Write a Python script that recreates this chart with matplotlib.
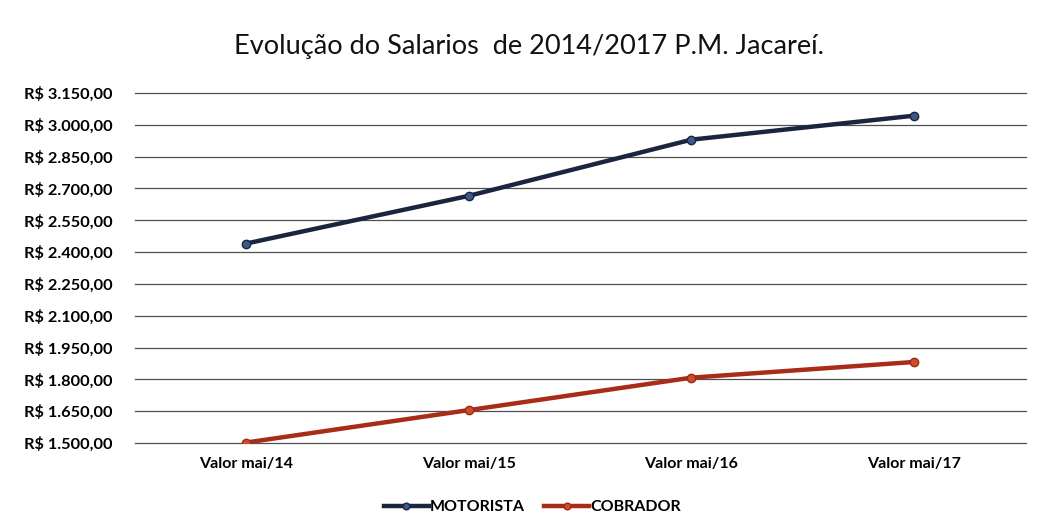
import matplotlib
matplotlib.use("Agg")
import matplotlib.pyplot as plt
from matplotlib.ticker import FuncFormatter

categories = ["Valor mai/14", "Valor mai/15", "Valor mai/16", "Valor mai/17"]
motorista = [2440, 2665, 2930, 3043]
cobrador = [1502, 1655, 1808, 1882]
yticks = [1500, 1650, 1800, 1950, 2100, 2250, 2400, 2550, 2700, 2850, 3000, 3150]

plt.rcParams['font.family'] = ['Lato', 'DejaVu Sans']

fig = plt.figure(figsize=(10.38, 5.31), dpi=100)
ax = fig.add_axes([0.1296, 0.1657, 0.988 - 0.1296, 0.8249 - 0.1657])

x = list(range(len(categories)))
ax.plot(x, motorista, color="#1a2640", lw=3.2, marker="o", ms=6,
        markerfacecolor="#3a5a8a", markeredgecolor="#1a2640", label="MOTORISTA", zorder=3)
ax.plot(x, cobrador, color="#a82c18", lw=3.2, marker="o", ms=6,
        markerfacecolor="#c85030", markeredgecolor="#a02810", label="COBRADOR", zorder=3)

ax.set_xlim(-0.5, 3.5)
ax.set_ylim(1500, 3150)
ax.set_yticks(yticks)

def fmt(v, pos):
    s = f"{v:,.2f}"
    s = s.replace(",", "X").replace(".", ",").replace("X", ".")
    return "R$ " + s

ax.yaxis.set_major_formatter(FuncFormatter(fmt))
ax.set_xticks(x)
ax.set_xticklabels(categories)
for lab in ax.get_yticklabels():
    lab.set_fontweight("bold")
    lab.set_fontsize(11.8)
for lab in ax.get_xticklabels():
    lab.set_fontweight("bold")
    lab.set_fontsize(11.5)

ax.grid(axis="y", color="#505050", lw=0.9)
for gl in ax.get_ygridlines():
    gl.set_clip_on(False)
ax.set_axisbelow(True)
for s in ax.spines.values():
    s.set_visible(False)
ax.tick_params(axis="y", length=0, pad=16)
ax.tick_params(axis="x", length=0, pad=10)

fig.text(0.51, 0.912, "Evolução do Salarios  de 2014/2017 P.M. Jacareí.",
         ha="center", va="center", fontsize=19.5, color="#111111")

leg = fig.legend(loc="center", bbox_to_anchor=(0.513, 0.045), ncol=2, frameon=False,
                 prop={"weight": "bold", "size": 11.5}, handlelength=2.8,
                 handletextpad=0.1, columnspacing=1.2, markerscale=0.8)

fig.savefig("out.png", dpi=100, facecolor="white")
